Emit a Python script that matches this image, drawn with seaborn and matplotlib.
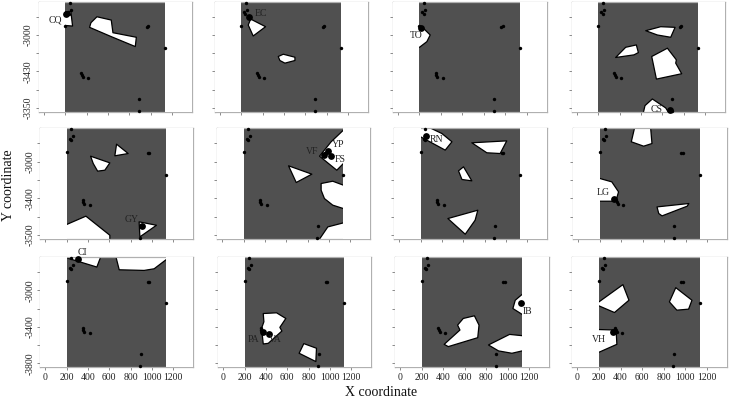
import pandas as pd
import matplotlib
matplotlib.use('Agg')
import matplotlib.pyplot as plt
import seaborn as sns

# sensors repeated on every panel
sensor_x = [244, 256, 228, 240, 200, 962, 975, 1134, 350, 356, 366, 416, 894, 891]
sensor_y = [-2645, -2727, -2750, -2770, -2898, -2912, -2905, -3142, -3418, -3440, -3458, -3473, -3698, -3836]

# named stations: panel index, position, label position
station_names = ['CQ', 'EC', 'TO', 'CS', 'GY', 'YP', 'VF', 'FS', 'RN', 'LG', 'CI', 'PA', 'VA', 'IB', 'VH']
station_panel = [0, 1, 2, 3, 4, 5, 5, 5, 6, 7, 8, 9, 9, 10, 11]
station_x = [206, 272, 212, 869, 906, 997, 959, 1022, 253, 337, 303, 375, 428, 1122, 328]
station_y = [-2771, -2800, -2920, -3825, -3702, -2884, -2927, -2935, -2724, -3407, -2662, -3455, -3484, -3142, -3462]
label_x = [106, 384, 169, 747, 809, 1084, 844, 1109, 344, 234, 350, 288, 484, 1191, 197]
label_y = [-2836, -2764, -3007, -3818, -3633, -2811, -2895, -2975, -2760, -3335, -2589, -3542, -3542, -3236, -3538]

# white gaps in the coverage, one list per panel
cq_gaps = [[(150, -2745), (253, -2745), (269, -2902), (150, -2891)],
           [(497, -2800), (631, -2836), (647, -2975), (866, -3025), (856, -3127), (631, -3018), (428, -2916), (441, -2865)]]
ec_gaps = [[(288, -2825), (428, -2909), (312, -3011), (266, -2891)],
           [(547, -3236), (594, -3211), (703, -3244), (703, -3280), (609, -3309), (562, -3280)]]
to_gaps = [[(150, -2927), (237, -2927), (300, -3000), (269, -3073), (200, -3135), (150, -3135)]]
cs_gaps = [[(644, -2953), (784, -2909), (919, -2916), (878, -3025), (753, -3000)],
           [(362, -3247), (456, -3135), (556, -3109), (575, -3193), (534, -3218)],
           [(847, -3145), (931, -3273), (925, -3309), (981, -3425), (744, -3484), (700, -3236)],
           [(612, -3900), (637, -3775), (706, -3702), (831, -3800), (884, -3900)]]
gy_gaps = [[(669, -2811), (778, -2913), (653, -2938)],
           [(425, -2942), (606, -3015), (559, -3095), (491, -3105), (450, -3022)],
           [(150, -3687), (200, -3687), (381, -3596), (606, -3804), (606, -3900), (150, -3900)],
           [(881, -3658), (1044, -3695), (888, -3822)]]
yp_gaps = [[(1180, -2658), (1137, -2658), (1022, -2785), (913, -2942), (1075, -3095), (1137, -3022), (1180, -3022)],
           [(622, -3047), (841, -3138), (694, -3229)],
           [(928, -3240), (1037, -3215), (1137, -3258), (1180, -3258), (1180, -3513), (1137, -3513), (1037, -3476), (959, -3404), (928, -3313)],
           [(881, -3900), (991, -3713), (1137, -3669), (1180, -3669), (1180, -3900)]]
rn_gaps = [[(228, -2600), (400, -2695), (494, -2785), (431, -2876), (200, -2731), (150, -2731), (150, -2600)],
           [(681, -2796), (1009, -2775), (947, -2913), (822, -2905)],
           [(603, -3058), (681, -3211), (588, -3196), (556, -3102)],
           [(456, -3622), (737, -3531), (712, -3640), (619, -3793)]]
lg_gaps = [[(531, -2600), (672, -2600), (687, -2804), (609, -2833), (494, -2785)],
           [(150, -3185), (200, -3185), (312, -3222), (375, -3331), (350, -3433), (150, -3433)],
           [(734, -3495), (1031, -3458), (1016, -3487), (781, -3593), (750, -3567)]]
ci_gaps = [[(150, -2625), (200, -2644), (484, -2745), (531, -2600), (150, -2600)],
           [(656, -2600), (694, -2775), (928, -2782), (1022, -2764), (1137, -2662), (1180, -2640), (1180, -2600)]]
pa_gaps = [[(375, -3255), (500, -3247), (587, -3309), (531, -3407), (550, -3447), (422, -3582), (375, -3589), (359, -3418), (381, -3345)],
           [(756, -3585), (875, -3636), (869, -3782), (712, -3691)]]
ib_gaps = [[(1180, -3044), (1137, -3044), (1072, -3109), (1050, -3200), (1137, -3265), (1180, -3265)],
           [(587, -3309), (691, -3280), (734, -3382), (722, -3520), (447, -3618), (409, -3593), (556, -3436), (534, -3382)],
           [(822, -3600), (1019, -3484), (1137, -3498), (1180, -3498), (1180, -3665), (1137, -3665), (1041, -3691), (916, -3665)]]
vh_gaps = [[(150, -3127), (200, -3127), (422, -2938), (478, -3109), (344, -3244), (200, -3171), (150, -3171)],
           [(912, -2971), (1062, -3109), (1031, -3207), (922, -3218), (853, -3127)],
           [(150, -3429), (359, -3436), (366, -3593), (200, -3680), (150, -3680)]]
panel_gaps = [cq_gaps, ec_gaps, to_gaps, cs_gaps, gy_gaps, yp_gaps, rn_gaps, lg_gaps, ci_gaps, pa_gaps, ib_gaps, vh_gaps]

x_ticks = [0, 200, 400, 600, 800, 1000, 1200]
y_ticks = [-2800, -3000, -3200, -3400, -3600, -3800]
# labels as printed on the source figure
y_labels_by_row = [['-3000', '-3430', '-3350'], ['-3000', '-3400', '-3500'], ['-3000', '-3400', '-3800']]

sns.set_theme(style='ticks')
plt.rcParams['font.family'] = ['Liberation Serif', 'DejaVu Serif']

W, H = 730, 400
fig = plt.figure(figsize=(W / 100, H / 100), dpi=100)

# axes boxes in pixels: left, right per panel, top, bottom per row
lefts = [38.5, 214.5, 392.7, 571.7, 40, 217, 394, 573, 40, 218, 395, 572]
rights = [192, 368, 546.7, 725, 193, 370, 547, 727, 193, 371, 549, 727]
tops = [2, 128.3, 257.3]
bottoms = [112, 239, 367.3]

sensors = pd.DataFrame({'x': sensor_x, 'y': sensor_y})
stations = pd.DataFrame({'panel': station_panel, 'x': station_x, 'y': station_y})

for i in range(12):
    row, col = i // 4, i % 4
    ax = fig.add_axes([lefts[i] / W, 1 - bottoms[row] / H, (rights[i] - lefts[i]) / W, (bottoms[row] - tops[row]) / H])
    ax.set_facecolor('#505050')
    for gap in panel_gaps[i]:
        ax.fill([p[0] for p in gap], [p[1] for p in gap], facecolor='white', edgecolor='black', linewidth=0.9, joinstyle='round', zorder=2)
    # margins go on top so gap outlines stop at the survey edge
    ax.axvspan(-50, 200, color='white', lw=0, zorder=3)
    ax.axvspan(1137, 1387, color='white', lw=0, zorder=3)
    sns.scatterplot(data=sensors, x='x', y='y', ax=ax, color='black', s=6, linewidth=0, zorder=4, clip_on=False)
    sns.scatterplot(data=stations[stations['panel'] == i], x='x', y='y', ax=ax, color='black', s=24, linewidth=0, zorder=5, clip_on=False)
    for name, p, lx, ly in zip(station_names, station_panel, label_x, label_y):
        if p == i:
            ax.text(lx, ly, name, fontsize=7, color='#222222', ha='center', va='center', zorder=6)
    ax.set_xlim(-50, 1387)
    ax.set_ylim(-3845, -2638)
    ax.set_xlabel('')
    ax.set_ylabel('')
    ax.set_xticks(x_ticks)
    ax.set_yticks(y_ticks)
    ax.set_xticklabels(x_ticks if row == 2 else [])
    labels = ['', y_labels_by_row[row][0], '', y_labels_by_row[row][1], '', y_labels_by_row[row][2]]
    ax.set_yticklabels(labels if col == 0 else [], rotation=90, va='center')
    ax.tick_params(length=2, width=0.6, color='#777777', labelsize=7, labelcolor='#222222', pad=2)
    for s in ax.spines.values():
        s.set_visible(True)
        s.set_color('#b0b0b0')
        s.set_linewidth(0.9)

fig.text(381 / W, 1 - 393 / H, 'X coordinate', fontsize=10, ha='center', va='center', color='#111111')
fig.text(9 / W, 1 - 185 / H, 'Y coordinate', fontsize=10, rotation=90, ha='center', va='center', color='#111111')

fig.savefig('out.png', dpi=100)
